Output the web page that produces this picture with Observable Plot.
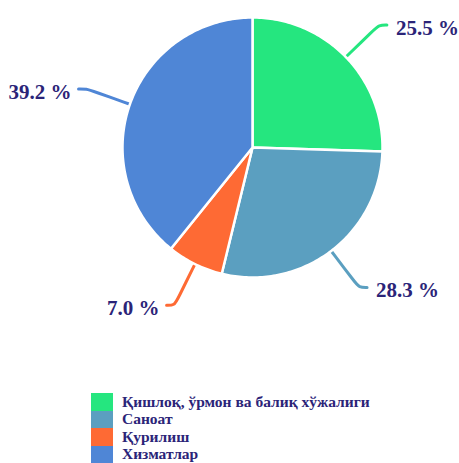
<!DOCTYPE html>
<html>
<head>
<meta charset="utf-8">
<script src="https://cdn.jsdelivr.net/npm/d3@7"></script>
<script src="https://cdn.jsdelivr.net/npm/@observablehq/plot@0.6"></script>
<style>
  html, body { margin: 0; padding: 0; background: #fff; }
  #chart svg { display: block; }
  .legend { margin: 13px 0 0 91px; font-family: "Liberation Serif", "Times New Roman", serif; font-weight: bold; font-size: 15.5px; color: #2b2478; }
  .legend .row { display: flex; align-items: center; height: 17.5px; }
  .legend .sw { width: 22px; height: 17.5px; margin-right: 9px; }
</style>
</head>
<body>
<div id="chart"></div>
<div class="legend" id="legend"></div>
<script>
const categories = ["Қишлоқ, ўрмон ва балиқ хўжалиги", "Саноат", "Қурилиш", "Хизматлар"];
const values = [25.5, 28.3, 7.0, 39.2];
const colors = ["#25e67f", "#5b9fc0", "#fe6a34", "#4f86d6"];

const W = 459, H = 380, cx = 252, cy = 147, R = 130;
const ext = 46, horiz = 8, gapRight = 9, gapLeft = 7;
const textColor = "#2b2478";
const serif = "'Liberation Serif', 'Times New Roman', serif";

const arcs = d3.pie().sort(null).startAngle(0).endAngle(2 * Math.PI)(values);

const slicePts = [];
arcs.forEach((a, i) => {
  slicePts.push({cat: categories[i], x: 0, y: 0});
  const n = Math.max(4, Math.ceil((a.endAngle - a.startAngle) / (Math.PI / 180)));
  for (let k = 0; k <= n; k++) {
    const t = a.startAngle + (a.endAngle - a.startAngle) * k / n;
    slicePts.push({cat: categories[i], x: R * Math.sin(t), y: R * Math.cos(t)});
  }
});

const connPts = [];
const labels = [];
arcs.forEach((a, i) => {
  const m = (a.startAngle + a.endAngle) / 2;
  const s = Math.sin(m), c = Math.cos(m);
  const dir = s >= 0 ? 1 : -1;
  const cornerX = (R + ext) * s, cornerY = (R + ext) * c;
  const pts = [
    [R * s, R * c],
    [(R + ext - 7) * s, (R + ext - 7) * c],
    [cornerX, cornerY],
    [cornerX + dir * horiz, cornerY]
  ];
  pts.forEach(p => connPts.push({cat: categories[i], x: p[0], y: p[1]}));
  const gap = dir > 0 ? gapRight : gapLeft;
  labels.push({cat: categories[i], x: cornerX + dir * (horiz + gap), y: cornerY, text: values[i].toFixed(1) + " %", anchor: dir > 0 ? "start" : "end"});
});

const plot = Plot.plot({
  width: W,
  height: H,
  margin: 0,
  x: {domain: [-cx, W - cx], axis: null},
  y: {domain: [cy - H, cy], axis: null},
  color: {domain: categories, range: colors},
  marks: [
    Plot.line(connPts, {x: "x", y: "y", z: "cat", stroke: "cat", strokeWidth: 3, curve: "basis", strokeLinecap: "round"}),
    Plot.line(slicePts, {x: "x", y: "y", z: "cat", fill: "cat", stroke: "white", strokeWidth: 2.5, strokeLinejoin: "round", curve: "linear-closed"}),
    Plot.text(labels.filter(d => d.anchor === "start"), {x: "x", y: "y", text: "text", textAnchor: "start", fill: textColor, fontSize: 21, fontWeight: "bold", fontFamily: serif, dy: 3}),
    Plot.text(labels.filter(d => d.anchor === "end"), {x: "x", y: "y", text: "text", textAnchor: "end", fill: textColor, fontSize: 21, fontWeight: "bold", fontFamily: serif, dy: 3})
  ]
});
document.getElementById("chart").appendChild(plot);

const leg = document.getElementById("legend");
categories.forEach((c, i) => {
  const row = document.createElement("div");
  row.className = "row";
  const sw = document.createElement("div");
  sw.className = "sw";
  sw.style.background = colors[i];
  const tx = document.createElement("span");
  tx.textContent = c;
  row.appendChild(sw);
  row.appendChild(tx);
  leg.appendChild(row);
});
</script>
</body>
</html>
